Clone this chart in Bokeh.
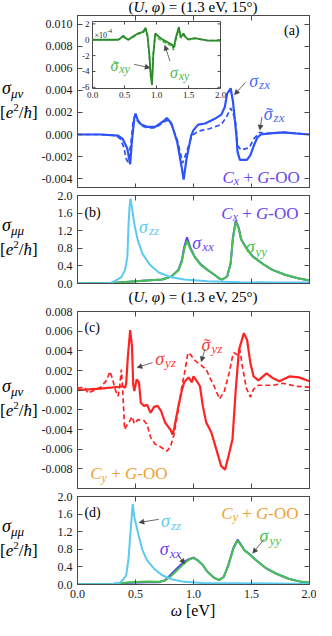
from bokeh.plotting import figure
from bokeh.layouts import column, row
from bokeh.models import (Range1d, LinearAxis, FixedTicker, PrintfTickFormatter,
                          CustomJSTickFormatter, Label, Arrow, NormalHead, Div)
from bokeh.embed import file_html
from bokeh.resources import INLINE

# ---------------------------------------------------------------- data
x_ticks = [0.0, 0.5, 1.0, 1.5, 2.0]
a_yticks = [-0.004, -0.002, 0.0, 0.002, 0.004, 0.006, 0.008, 0.010]
b_yticks = [0.0, 0.4, 0.8, 1.2, 1.6, 2.0]
c_yticks = [-0.008, -0.006, -0.004, -0.002, 0.0, 0.002, 0.004, 0.006, 0.008]
d_yticks = [0.0, 0.4, 0.8, 1.2, 1.6, 2.0]
inset_xticks = [0.0, 0.5, 1.0, 1.5, 2.0]
inset_xtick_labels = ["0.0", "0.5", "1.0", "1.5", "2.0"]
inset_yticks = [-6, -4, -2, 0, 2]
inset_ytick_labels = ["-6", "-4", "-2", "0", "2"]

# (a) sigma_zx (solid) and tilde sigma_zx (dashed)
a_zx_x = [0.0, 0.2, 0.35, 0.39, 0.43, 0.454, 0.47, 0.49, 0.50, 0.52, 0.55, 0.60, 0.67, 0.74,
          0.77, 0.81, 0.86, 0.90, 0.915, 0.94, 0.98, 1.0, 1.04, 1.10, 1.18, 1.24, 1.27, 1.29,
          1.32, 1.34, 1.37, 1.38, 1.40, 1.46, 1.49, 1.52, 1.55, 1.58, 1.66, 1.77, 1.88, 2.0]
a_zx_y = [0.0, 0.0, -0.0001, -0.0004, -0.0013, -0.0027, -0.0005, 0.0015, 0.0019, 0.0013,
          0.0009, 0.0007, 0.0007, 0.0012, 0.0015, 0.0010, -0.0007, -0.0031, -0.0041, -0.0022,
          -0.0001, 0.0004, 0.0009, 0.0010, 0.0014, 0.0018, 0.0025, 0.0037, 0.0042, 0.0030,
          -0.0001, -0.0016, -0.0023, -0.0023, -0.0019, -0.0010, -0.0003, 0.0, 0.0001, 0.0002,
          0.0001, 0.0]
a_tzx_x = [0.0, 0.2, 0.33, 0.37, 0.40, 0.42, 0.435, 0.46, 0.48, 0.495, 0.52, 0.55, 0.60, 0.67,
           0.74, 0.77, 0.81, 0.86, 0.89, 0.905, 0.94, 0.98, 1.0, 1.04, 1.13, 1.24, 1.29, 1.32,
           1.36, 1.38, 1.41, 1.48, 1.52, 1.57, 1.60, 1.66, 1.77, 1.88, 2.0]
a_tzx_y = [0.0, 0.0, -0.0001, -0.0004, -0.0012, -0.0022, -0.0025, -0.0008, 0.0012, 0.0017,
           0.0012, 0.0008, 0.0006, 0.0006, 0.0011, 0.0013, 0.0009, -0.0005, -0.0018, -0.0026,
           -0.0016, -0.0003, 0.0, 0.0003, 0.0005, 0.0009, 0.0017, 0.0024, 0.0014, -0.0010,
           -0.0014, -0.0012, -0.0004, 0.0002, 0.0001, 0.0001, 0.0002, 0.0001, 0.0]

# (a) inset: sigma_xy and tilde sigma_xy in units of 1e-4
ins_x = [0.0, 0.40, 0.44, 0.48, 0.52, 0.56, 0.63, 0.71, 0.79, 0.83, 0.86, 0.89, 0.91, 0.93,
         0.95, 0.98, 1.02, 1.09, 1.19, 1.24, 1.27, 1.30, 1.32, 1.35, 1.38, 1.42, 1.46, 1.50,
         1.60, 1.80, 2.0]
ins_xy = [0.0, 0.0, 0.2, 0.5, 0.2, 0.0, 0.4, 0.8, 1.0, 1.5, 0.5, -2.0, -4.5, -5.7, -2.0, 0.8,
          0.5, 0.05, -0.4, -0.6, -1.0, 0.2, 0.8, 1.6, 0.3, 0.8, 0.3, 0.05, 0.2, -0.1, -0.1]
ins_txy = [0.0, 0.0, 0.15, 0.4, 0.15, 0.0, 0.3, 0.7, 0.9, 1.2, 0.3, -2.4, -4.8, -5.0, -1.5, 0.6,
           0.2, -0.2, -0.6, -0.8, -1.3, -0.2, 0.5, 1.3, 0.2, 0.6, 0.2, 0.0, 0.15, -0.1, -0.1]

# (b) diagonal components, C_x + G-OO
b_zz_x = [0.0, 0.2, 0.28, 0.32, 0.38, 0.41, 0.43, 0.44, 0.45, 0.457, 0.47, 0.49, 0.52, 0.56,
          0.62, 0.70, 0.81, 0.92, 1.12, 1.40, 1.70, 2.0]
b_zz_y = [0.0, 0.0, 0.01, 0.05, 0.15, 0.31, 0.61, 1.35, 1.78, 1.93, 1.72, 1.35, 0.98, 0.68,
          0.44, 0.25, 0.14, 0.09, 0.05, 0.03, 0.02, 0.02]
b_xy_x = [0.0, 0.3, 0.56, 0.73, 0.81, 0.87, 0.90, 0.92, 0.944, 0.97, 1.01, 1.06, 1.12, 1.18,
          1.23, 1.25, 1.29, 1.32, 1.34, 1.364, 1.39, 1.41, 1.46, 1.51, 1.60, 1.68, 1.79, 1.90, 2.0]
b_xx_y = [0.0, 0.01, 0.06, 0.09, 0.16, 0.31, 0.53, 0.83, 1.05, 0.83, 0.61, 0.44, 0.31, 0.20,
          0.10, 0.09, 0.16, 0.46, 1.05, 1.43, 1.27, 1.01, 0.79, 0.62, 0.44, 0.31, 0.20, 0.12, 0.07]
b_yy_y = [0.0, 0.01, 0.06, 0.09, 0.16, 0.30, 0.50, 0.78, 0.97, 0.80, 0.60, 0.43, 0.31, 0.20,
          0.10, 0.09, 0.16, 0.45, 1.02, 1.40, 1.25, 1.00, 0.78, 0.61, 0.44, 0.31, 0.20, 0.12, 0.07]

# (c) sigma_yz (solid) and tilde sigma_yz (dashed)
c_yz_x = [0.0, 0.2, 0.36, 0.39, 0.41, 0.42, 0.434, 0.454, 0.47, 0.48, 0.49, 0.51, 0.53, 0.546,
          0.574, 0.6, 0.63, 0.66, 0.69, 0.72, 0.756, 0.8, 0.82, 0.835, 0.87, 0.9, 0.92, 0.958,
          0.986, 1.0, 1.03, 1.056, 1.08, 1.11, 1.154, 1.196, 1.238, 1.272, 1.31, 1.336, 1.364,
          1.392, 1.434, 1.462, 1.49, 1.518, 1.56, 1.63, 1.686, 1.74, 1.826, 1.91, 2.0]
c_yz_y = [0.0, 0.00015, 0.00035, 0.0004, 0.00025, 0.0007, 0.0034, 0.0061, 0.0044, 0.0006,
          -0.0001, 0.0011, 0.0008, -0.0013, -0.0016, -0.0015, -0.0023, -0.0017, -0.0016, -0.0021,
          -0.0033, -0.0040, -0.0045, -0.0038, -0.0016, 0.0, 0.0008, 0.0013, 0.0008, 0.0014,
          0.0009, 0.0004, -0.0016, -0.0033, -0.0043, -0.0060, -0.0077, -0.0081, -0.0063, -0.0050,
          0.0, 0.0041, 0.0058, 0.0051, 0.0028, 0.0014, 0.0010, 0.0017, 0.0012, 0.0009,
          0.0014, 0.0013, 0.0009]
c_tyz_x = [0.0, 0.03, 0.06, 0.09, 0.2, 0.25, 0.28, 0.3, 0.33, 0.35, 0.364, 0.378, 0.39, 0.406,
           0.42, 0.448, 0.47, 0.49, 0.52, 0.574, 0.6, 0.63, 0.67, 0.72, 0.77, 0.8, 0.83, 0.854,
           0.874, 0.9, 0.924, 0.952, 0.975, 1.014, 1.07, 1.11, 1.14, 1.182, 1.224, 1.266, 1.308,
           1.336, 1.35, 1.378, 1.4, 1.42, 1.456, 1.49, 1.518, 1.56, 1.686, 1.77, 1.882, 2.0]
c_tyz_y = [0.0002, 0.00025, 0.0003, -0.0003, 0.0003, 0.0010, 0.0019, 0.0012, -0.0001, -0.0006,
           0.0004, 0.0021, 0.0, -0.0040, -0.0037, -0.0032, -0.0027, -0.0034, -0.0030, -0.0031,
           -0.0035, -0.0048, -0.0055, -0.0058, -0.0062, -0.0058, -0.0046, -0.0030, -0.0016, 0.0004,
           0.0018, 0.0038, 0.0036, 0.0030, 0.0025, 0.0021, 0.0013, 0.0003, -0.0009, -0.0001,
           0.0018, 0.0034, 0.0038, 0.0036, 0.0041, 0.0025, 0.0002, -0.0007, 0.0001, 0.0005,
           0.0005, 0.0007, 0.0004, 0.0003]

# (d) diagonal components, C_y + G-OO
d_zz_x = [0.0, 0.3, 0.36, 0.39, 0.42, 0.44, 0.457, 0.476, 0.49, 0.52, 0.56, 0.60, 0.66, 0.73,
          0.81, 0.92, 1.10, 1.40, 1.70, 2.0]
d_zz_y = [0.0, 0.01, 0.03, 0.10, 0.21, 0.59, 1.19, 1.83, 1.53, 1.19, 0.78, 0.55, 0.36, 0.21,
          0.12, 0.06, 0.03, 0.03, 0.02, 0.01]
d_xy_x = [0.0, 0.3, 0.45, 0.60, 0.70, 0.756, 0.81, 0.87, 0.92, 0.966, 1.0, 1.036, 1.08, 1.12,
          1.18, 1.22, 1.26, 1.30, 1.345, 1.38, 1.41, 1.44, 1.48, 1.54, 1.62, 1.71, 1.82, 1.93, 2.0]
d_xx_y = [0.0, 0.01, 0.04, 0.05, 0.05, 0.10, 0.24, 0.40, 0.52, 0.58, 0.61, 0.55, 0.44, 0.29,
          0.15, 0.10, 0.17, 0.44, 0.84, 1.02, 0.90, 0.78, 0.70, 0.55, 0.38, 0.25, 0.13, 0.06, 0.04]
d_yy_y = [0.0, 0.01, 0.05, 0.07, 0.06, 0.09, 0.20, 0.35, 0.48, 0.57, 0.60, 0.55, 0.44, 0.29,
          0.15, 0.10, 0.17, 0.43, 0.82, 1.00, 0.89, 0.77, 0.69, 0.55, 0.38, 0.25, 0.13, 0.06, 0.04]

# ---------------------------------------------------------------- style
SERIF = "Liberation Serif"
FRAME_C = "#4a4a4a"
TICK_TXT = "#1a1a1a"
ARROW_C = "#444444"
BLUE = "#2d52f7"
BLUE_L = "#4a6cf7"
PURPLE = "#5a3cf2"
PURPLE_L = "#6a44f0"
CYAN = "#5ccaf0"
GREEN = "#45c250"
RED = "#ff2424"
RED_L = "#ff3b3b"
ORANGE = "#f0a035"
INSET_D = "#2b8a2b"
INSET_L = "#58b848"

TOTAL_W = 316
YLAB_W = 38                 # width of the y-label column
FIG_W = TOTAL_W - YLAB_W
ML, MR = 39, 7
FW = FIG_W - ML - MR        # frame width
FRAME_LEFT = YLAB_W + ML    # frame left inside the page content

CW = {'σ': 0.55, 'μ': 0.58, 'ν': 0.5, 'φ': 0.62, 'ω': 0.68, 'ħ': 0.5, 'x': 0.444, 'y': 0.444,
      'z': 0.389, 'e': 0.444, 'C': 0.667, 'G': 0.722, 'U': 0.722, 'O': 0.722, 'V': 0.722,
      '-': 0.333, '+': 0.564, ' ': 0.25, '=': 0.564, '(': 0.333, ')': 0.333, '.': 0.25,
      ',': 0.25, '°': 0.4, '[': 0.333, ']': 0.333, '/': 0.278, '×': 0.564, '˜': 0.333,
      'a': 0.444, 'b': 0.5, 'c': 0.444, 'd': 0.5}


def tw(s, size):
    return sum(CW.get(c, 0.5) for c in s) * size


def rich(p, x, y, pieces, color, dx=0, dy=0, xr="default", yr="default"):
    """pieces: (text, size, style, shift_up[, extra_dx, advances])"""
    off = dx
    for pc in pieces:
        t, s, st, sh = pc[:4]
        ex = pc[4] if len(pc) > 4 else 0
        adv = pc[5] if len(pc) > 5 else True
        body = t.strip(" ")
        lead = len(t) - len(t.lstrip(" "))
        trail = len(t) - len(t.rstrip(" "))
        off += lead * 0.25 * s
        if body:
            p.add_layout(Label(x=x, y=y, x_offset=off + ex, y_offset=dy + sh, text=body,
                               text_font=SERIF, text_font_size=f"{s}px", text_font_style=st,
                               text_color=color, text_align="left", text_baseline="alphabetic",
                               x_range_name=xr, y_range_name=yr))
        if adv:
            off += tw(body, s) + trail * 0.25 * s
        else:
            off -= lead * 0.25 * s


def sig(sub, tilde=False, size=18, subsize=13):
    out = []
    if tilde:
        out.append(("˜", size, "normal", -1, 2.5, False))
    out += [("σ", size, "italic", 0), (sub, subsize, "italic", -4)]
    return out


def cgoo(sub):
    return [("C", 17, "italic", 0), (sub, 12, "italic", -4), (" + ", 17, "normal", 0),
            ("G", 17, "italic", 0), ("-OO", 17, "normal", 0)]


def arrow(p, x0, y0, x1, y1, xr="default", yr="default"):
    p.add_layout(Arrow(x_start=x0, y_start=y0, x_end=x1, y_end=y1, line_color=ARROW_C,
                       line_width=0.8, x_range_name=xr, y_range_name=yr,
                       end=NormalHead(size=5, line_color=ARROW_C, fill_color=ARROW_C,
                                      line_width=0.5)))


def style_axis(ax, ticks, fmt, show):
    ax.ticker = FixedTicker(ticks=ticks)
    ax.major_tick_in = 5
    ax.major_tick_out = 0
    ax.minor_tick_line_color = None
    ax.axis_line_color = FRAME_C
    ax.major_tick_line_color = FRAME_C
    if show:
        ax.formatter = PrintfTickFormatter(format=fmt)
        ax.major_label_text_font = SERIF
        ax.major_label_text_font_size = "12px"
        ax.major_label_text_color = TICK_TXT
        ax.major_label_standoff = 5
    else:
        ax.formatter = CustomJSTickFormatter(code="return ''")
        ax.major_label_text_font_size = "1px"
        ax.major_label_standoff = 0


def make_panel(h, top, bottom, yr, yticks, yfmt, xlabels):
    p = figure(width=FIG_W, height=h, x_range=Range1d(0.0, 2.0), y_range=Range1d(yr[0], yr[1]),
               output_backend="svg", toolbar_location=None,
               min_border_left=ML, min_border_right=MR, min_border_top=top,
               min_border_bottom=bottom)
    p.outline_line_color = FRAME_C
    p.grid.visible = False
    style_axis(p.xaxis[0], x_ticks, "%.1f", xlabels)
    style_axis(p.yaxis[0], yticks, yfmt, True)
    for side, ticks, fmt in (("right", yticks, yfmt), ("above", x_ticks, "%.1f")):
        ax = LinearAxis()
        style_axis(ax, ticks, fmt, False)
        p.add_layout(ax, side)
    return p


FONT_CSS = "font-family:'Liberation Serif',serif;color:#000;white-space:nowrap;"


def ylabel_div(height, greek, pad):
    html = (f'<div style="{FONT_CSS}font-size:17px;line-height:23px;padding-top:{pad}px">'
            f'<div style="padding-left:2px"><i style="font-size:18px">σ</i>'
            f'<span style="font-size:13px;position:relative;top:4px"><i>{greek}</i></span></div>'
            f'<div>[<i>e</i>'
            f'<span style="font-size:11px;position:relative;top:-7px">2</span>/<i>ħ</i>]</div>'
            f'</div>')
    return Div(text=html, width=YLAB_W, height=height, margin=(0, 0, 0, 0))


def title_div(height, angle, pad):
    html = (f'<div style="{FONT_CSS}font-size:15px;line-height:14px;padding-top:{pad}px;'
            f'margin-left:{FRAME_LEFT}px;width:{FW}px;text-align:center">'
            f'(<i>U</i>, <i>φ</i>) = (1.3 eV, {angle}°)</div>')
    return Div(text=html, width=TOTAL_W, height=height, margin=(0, 0, 0, 0))


# ---------------------------------------------------------------- panel (a)
A_H, A_TOP, A_BOT = 174, 1, 0
A_YR = (-0.0049, 0.0108)
pA = make_panel(A_H, A_TOP, A_BOT, A_YR, a_yticks, "%.3f", False)
pA.line(a_tzx_x, a_tzx_y, line_color=BLUE, line_width=1.7, line_dash="5 3")
pA.line(a_zx_x, a_zx_y, line_color=BLUE, line_width=2.2)
rich(pA, 1.48, 0.0049, sig("zx"), BLUE_L)
arrow(pA, 1.445, 0.0047, 1.353, 0.0036)
rich(pA, 1.605, 0.0019, sig("zx", True), BLUE_L)
arrow(pA, 1.59, 0.0016, 1.572, 0.0004)
rich(pA, 1.25, -0.0039, cgoo("x"), PURPLE_L)
rich(pA, 1.78, 0.0094, [("(a)", 14, "normal", 0)], "black")

# inset placed inside panel (a) with its own ranges
FA_H = A_H - A_TOP - A_BOT
INSET_XLIM = (0.0, 2.0)
INSET_YLIM = (-6.15, 2.3)
IX0, IX1, IT, IB = 15, 143, 6, 73          # inset frame, px inside panel (a) frame
kx = (IX1 - IX0) / (INSET_XLIM[1] - INSET_XLIM[0])
ky = (IB - IT) / (INSET_YLIM[1] - INSET_YLIM[0])
pA.extra_x_ranges = {"ix": Range1d(INSET_XLIM[0] - IX0 / kx, INSET_XLIM[1] + (FW - IX1) / kx)}
pA.extra_y_ranges = {"iy": Range1d(INSET_YLIM[0] - (FA_H - IB) / ky, INSET_YLIM[1] + IT / ky)}
IR = dict(x_range_name="ix", y_range_name="iy")
pA.quad(left=[INSET_XLIM[0]], right=[INSET_XLIM[1]], bottom=[INSET_YLIM[0]], top=[INSET_YLIM[1]],
        fill_color="white", line_color=FRAME_C, line_width=1, **IR)
tx = [t for t in inset_xticks if INSET_XLIM[0] < t < INSET_XLIM[1]]
ty = [t for t in inset_yticks if INSET_YLIM[0] < t < INSET_YLIM[1]]
pA.segment(x0=tx + tx, x1=tx + tx,
           y0=[INSET_YLIM[0]] * len(tx) + [INSET_YLIM[1]] * len(tx),
           y1=[INSET_YLIM[0] + 3 / ky] * len(tx) + [INSET_YLIM[1] - 3 / ky] * len(tx),
           line_color=FRAME_C, line_width=1, **IR)
pA.segment(x0=[INSET_XLIM[0]] * len(ty) + [INSET_XLIM[1]] * len(ty),
           x1=[INSET_XLIM[0] + 3 / kx] * len(ty) + [INSET_XLIM[1] - 3 / kx] * len(ty),
           y0=ty + ty, y1=ty + ty, line_color=FRAME_C, line_width=1, **IR)
pA.line(ins_x, ins_txy, line_color=INSET_L, line_width=1.6, line_dash="4 2", **IR)
pA.line(ins_x, ins_xy, line_color=INSET_D, line_width=1.8, **IR)
for t, lab in zip(inset_xticks, inset_xtick_labels):
    pA.add_layout(Label(x=t, y=INSET_YLIM[0], y_offset=-3, text=lab, text_font=SERIF,
                        text_font_size="9px", text_color=TICK_TXT, text_align="center",
                        text_baseline="top", **IR))
for t, lab in zip(inset_yticks, inset_ytick_labels):
    pA.add_layout(Label(x=INSET_XLIM[0], y=t, x_offset=-3, text=lab, text_font=SERIF,
                        text_font_size="9px", text_color=TICK_TXT, text_align="right",
                        text_baseline="middle", **IR))
rich(pA, 0.03, 0.55, [("×10", 8, "normal", 0), ("-4", 6, "normal", 4)], TICK_TXT,
     xr="ix", yr="iy")
rich(pA, 0.28, -3.2, sig("xy", True, 16, 12), INSET_L, xr="ix", yr="iy")
arrow(pA, 0.65, -3.1, 0.9, -3.55, xr="ix", yr="iy")
rich(pA, 1.21, -4.1, sig("xy", False, 16, 12), INSET_L, xr="ix", yr="iy")
arrow(pA, 1.21, -2.7, 1.13, -0.7, xr="ix", yr="iy")

# ---------------------------------------------------------------- panel (b)
B_H = 102
B_YR = (0.0, 2.0)
pB = make_panel(B_H, 7, 7, B_YR, b_yticks, "%.1f", False)
pB.line(b_xy_x, b_xx_y, line_color=PURPLE, line_width=2.0)
pB.line(b_xy_x, b_yy_y, line_color=GREEN, line_width=2.0)
pB.line(b_zz_x, b_zz_y, line_color=CYAN, line_width=2.0)
rich(pB, 0.06, 1.62, [("(b)", 14, "normal", 0)], "black")
rich(pB, 0.53, 1.29, sig("zz"), CYAN)
rich(pB, 0.99, 0.93, sig("xx"), PURPLE_L)
rich(pB, 1.45, 0.82, sig("yy"), GREEN)
rich(pB, 1.24, 1.6, cgoo("x"), PURPLE_L)

# ---------------------------------------------------------------- panel (c)
C_H = 185
C_YR = (-0.0100, 0.0080)
pC = make_panel(C_H, 7, 1, C_YR, c_yticks, "%.3f", False)
pC.line(c_tyz_x, c_tyz_y, line_color=RED, line_width=1.7, line_dash="5 3")
pC.line(c_yz_x, c_yz_y, line_color=RED, line_width=2.2)
rich(pC, 0.06, 0.0064, [("(c)", 14, "normal", 0)], "black")
rich(pC, 0.67, 0.0032, sig("yz"), RED_L)
arrow(pC, 0.647, 0.0028, 0.513, 0.0023)
rich(pC, 1.07, 0.0046, sig("yz", True), RED_L)
arrow(pC, 1.10, 0.0042, 1.067, 0.0029)
rich(pC, 0.11, -0.0085, cgoo("y"), ORANGE)

# ---------------------------------------------------------------- panel (d)
D_H = 114
D_YR = (0.0, 2.0)
pD = make_panel(D_H, 7, 19, D_YR, d_yticks, "%.1f", True)
pD.line(d_xy_x, d_xx_y, line_color=PURPLE, line_width=2.0)
pD.line(d_xy_x, d_yy_y, line_color=GREEN, line_width=2.0)
pD.line(d_zz_x, d_zz_y, line_color=CYAN, line_width=2.0)
rich(pD, 0.06, 1.64, [("(d)", 14, "normal", 0)], "black")
rich(pD, 1.24, 1.62, cgoo("y"), ORANGE)
rich(pD, 0.72, 1.44, sig("zz"), CYAN)
arrow(pD, 0.70, 1.48, 0.53, 1.41)
rich(pD, 0.71, 0.80, sig("xx"), PURPLE_L)
arrow(pD, 0.866, 0.67, 0.924, 0.47)
rich(pD, 1.57, 1.10, sig("yy"), GREEN)
arrow(pD, 1.61, 1.03, 1.51, 0.71)

xlabel = Div(text=(f'<div style="{FONT_CSS}font-size:16px;line-height:16px;'
                   f'margin-left:{FRAME_LEFT}px;width:{FW}px;text-align:center">'
                   f'<i>ω</i> [eV]</div>'),
             width=TOTAL_W, height=17, margin=(0, 0, 0, 0))

layout = column(
    title_div(14, 15, 0),
    row(ylabel_div(A_H, "μν", 63), pA, spacing=0),
    row(ylabel_div(B_H, "μμ", 26), pB, spacing=0),
    title_div(14, 25, 0),
    row(ylabel_div(C_H, "μν", 71), pC, spacing=0),
    row(ylabel_div(D_H, "μμ", 26), pD, spacing=0),
    xlabel,
    spacing=0,
)
open("out.html", "w").write(file_html(layout, INLINE, title="conductivity"))
